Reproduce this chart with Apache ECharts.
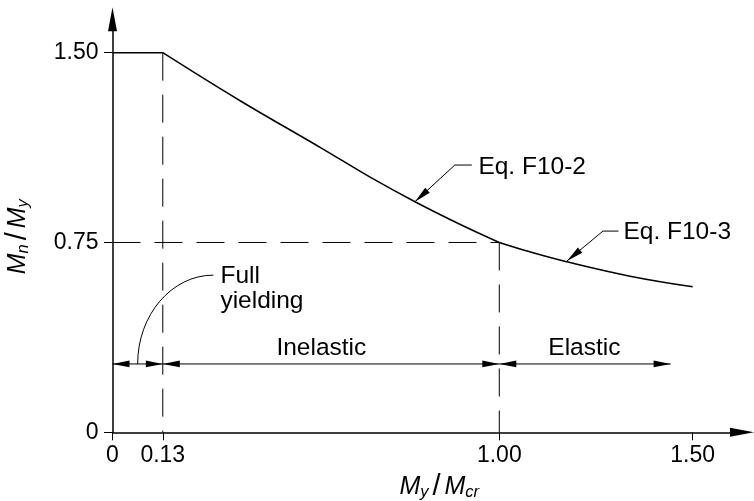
<!DOCTYPE html>
<html><head><meta charset="utf-8">
<script src="https://cdn.jsdelivr.net/npm/echarts@6/dist/echarts.min.js"></script>
<style>html,body{margin:0;padding:0;background:#fff}#c{width:754px;height:501px}</style>
</head><body><div id="c"></div>
<script>
// ---- data ----
const plateauX = [0, 0.13];
const plateauY = [1.5, 1.5];
const inelasticX = [0.13, 0.33, 0.541, 0.666, 0.782, 0.898, 1.0];
const inelasticY = [1.5, 1.31, 1.122, 1.008, 0.911, 0.822, 0.75];
const elasticX = [1.0, 1.079, 1.174, 1.338, 1.5];
const elasticY = [0.75, 0.713, 0.674, 0.617, 0.575];

const xTicks = [0, 0.13, 1.0, 1.5];
const xTickLabels = ['0', '0.13', '1.00', '1.50'];
const yTicks = [0, 0.75, 1.5];
const yTickLabels = ['0', '0.75', '1.50'];

const guideVX = [0.13, 1.0];
const guideVTop = [1.5, 0.75];
const guideHY = 0.75;
const guideHEndX = 1.0;

const dimY = 0.27;
const dimBounds = [0, 0.13, 1.0, 1.443];
const rangeLabels = ['Inelastic', 'Elastic'];
const rangeLabelX = [0.54, 1.22];
const rangeLabelY = 0.333;

const eqLabels = ['Eq. F10-2', 'Eq. F10-3'];
const eqTipX = [0.782, 1.175];
const eqTipY = [0.911, 0.677];
const eqKneeX = [0.885, 1.268];
const eqKneeY = [1.056, 0.795];
const eqShelfX = [0.929, 1.308];
const eqTextX = [0.946, 1.321];
const eqTextY = [1.049, 0.789];

const fullLabel = 'Full\nyielding';
const fullStart = [0.065, 0.27];
const fullEnd = [0.261, 0.621];
const fullTextX = 0.279;
const fullTextY = 0.567;

// ---- chart ----
const FONT = "'Liberation Sans', Arial, sans-serif";
const chart = echarts.init(document.getElementById('c'), null, {renderer: 'canvas'});

function pick(list, labels, v) {
  let best = 0, bd = Infinity;
  list.forEach((t, i) => { const d = Math.abs(t - v); if (d < bd) { bd = d; best = i; } });
  return labels[best];
}
function arrowHead(tip, from, len, hw) {
  const dx = tip[0] - from[0], dy = tip[1] - from[1];
  const d = Math.hypot(dx, dy) || 1;
  const ux = dx / d, uy = dy / d;
  const bx = tip[0] - ux * len, by = tip[1] - uy * len;
  return {type: 'polygon', shape: {points: [tip, [bx - uy * hw, by + ux * hw], [bx + uy * hw, by - ux * hw]]},
          style: {fill: '#000'}};
}
function txt(x, y, text, align, extra) {
  return {type: 'text', style: Object.assign({x: x, y: y, text: text, fill: '#000',
          font: '24.5px ' + FONT, align: align, verticalAlign: 'middle'}, extra || {})};
}

function renderNotes(params, api) {
  const ch = [];
  const thin = {stroke: '#000', lineWidth: 1, fill: null};
  // dimension lines
  for (let i = 0; i < dimBounds.length - 1; i++) {
    const a = api.coord([dimBounds[i], dimY]);
    const b = api.coord([dimBounds[i + 1], dimY]);
    ch.push({type: 'line', shape: {x1: a[0], y1: a[1], x2: b[0], y2: b[1]}, style: thin});
    ch.push(arrowHead(a, b, 17, 3.4));
    ch.push(arrowHead(b, a, 17, 3.4));
  }
  rangeLabels.forEach((t, i) => {
    const p = api.coord([rangeLabelX[i], rangeLabelY]);
    ch.push(txt(p[0], p[1], t, 'center'));
  });
  // equation leaders
  eqLabels.forEach((t, i) => {
    const tip = api.coord([eqTipX[i], eqTipY[i]]);
    const knee = api.coord([eqKneeX[i], eqKneeY[i]]);
    const shelf = api.coord([eqShelfX[i], eqKneeY[i]]);
    ch.push({type: 'polyline', shape: {points: [tip, knee, shelf]}, style: thin});
    ch.push(arrowHead(tip, knee, 17, 3.4));
    const tp = api.coord([eqTextX[i], eqTextY[i]]);
    ch.push(txt(tp[0], tp[1], t, 'left'));
  });
  // full yielding leader
  const s = api.coord(fullStart), e = api.coord(fullEnd);
  const k = 0.552;
  ch.push({type: 'bezierCurve', shape: {x1: s[0], y1: s[1], x2: e[0], y2: e[1],
           cpx1: s[0], cpy1: s[1] - k * (s[1] - e[1]), cpx2: e[0] - k * (e[0] - s[0]), cpy2: e[1]},
           style: thin});
  const fp = api.coord([fullTextX, fullTextY]);
  ch.push(txt(fp[0], fp[1], fullLabel, 'left', {lineHeight: 25.5}));
  return {type: 'group', children: ch};
}

const dashStyle = {color: '#000', width: 1, type: [28, 14]};
const xyPairs = (xs, ys) => xs.map((x, i) => [x, ys[i]]);

const nameRich = {
  m: {fontSize: 25, fontStyle: 'italic', fontFamily: FONT, color: '#000', lineHeight: 28},
  s: {fontSize: 16.5, fontStyle: 'italic', fontFamily: FONT, color: '#000', lineHeight: 19, verticalAlign: 'bottom'},
  sl: {fontSize: 29, fontFamily: FONT, color: '#000', lineHeight: 28, padding: [0, 4, 0, 4]}
};

const option = {
  animation: false,
  backgroundColor: '#fff',
  grid: {left: 112.5, right: 12, top: 19.3, bottom: 68.7, containLabel: false, outerBoundsMode: 'none'},
  xAxis: {
    type: 'value', min: 0, max: 1.6275,
    name: '{m|M}{s|y}{sl|/}{m|M}{s|cr}', nameLocation: 'middle', nameGap: 41, nameMoveOverlap: false,
    nameTextStyle: {rich: nameRich, padding: [0, 0, 0, 24]},
    axisLine: {show: true, onZero: false, symbol: ['none', 'triangle'], symbolSize: [9, 24],
               lineStyle: {color: '#000', width: 1.5}},
    axisTick: {show: true, customValues: xTicks, length: 8, inside: false, lineStyle: {color: '#000', width: 1}},
    axisLabel: {show: true, customValues: xTicks, formatter: v => pick(xTicks, xTickLabels, v),
                fontSize: 23, fontFamily: FONT, color: '#000', margin: 12, hideOverlap: false},
    splitLine: {show: false}
  },
  yAxis: {
    type: 'value', min: 0, max: 1.6318,
    name: '{m|M}{s|n}{sl|/}{m|M}{s|y}', nameLocation: 'middle', nameGap: 80.5, nameRotate: 90, nameMoveOverlap: false,
    nameTextStyle: {rich: nameRich, padding: [0, 22, 0, 0]},
    axisLine: {show: true, onZero: false, symbol: ['none', 'triangle'], symbolSize: [9, 24],
               lineStyle: {color: '#000', width: 1.5}},
    axisTick: {show: true, customValues: yTicks, length: 8.5, inside: false, lineStyle: {color: '#000', width: 1}},
    axisLabel: {show: true, customValues: yTicks, formatter: v => pick(yTicks, yTickLabels, v),
                fontSize: 23, fontFamily: FONT, color: '#000', margin: 14, hideOverlap: false},
    splitLine: {show: false}
  },
  series: [
    {type: 'line', data: [[guideVX[0], guideVTop[0]], [guideVX[0], 0]], symbol: 'none', lineStyle: dashStyle, z: 1},
    {type: 'line', data: [[guideVX[1], guideVTop[1]], [guideVX[1], 0]], symbol: 'none', lineStyle: dashStyle, z: 1},
    {type: 'line', data: [[0, guideHY], [guideHEndX, guideHY]], symbol: 'none', lineStyle: dashStyle, z: 1},
    {type: 'line', data: xyPairs(plateauX, plateauY), symbol: 'none', lineStyle: {color: '#000', width: 1.5}, z: 3},
    {type: 'line', data: xyPairs(inelasticX, inelasticY), smooth: 0.4, symbol: 'none', lineStyle: {color: '#000', width: 1.5}, z: 3},
    {type: 'line', data: xyPairs(elasticX, elasticY), smooth: 0.4, symbol: 'none', lineStyle: {color: '#000', width: 1.5}, z: 3},
    {type: 'custom', coordinateSystem: 'cartesian2d', data: [[0, 0]], renderItem: renderNotes, clip: false, silent: true, z: 4}
  ]
};
chart.setOption(option);
</script>
</body></html>
